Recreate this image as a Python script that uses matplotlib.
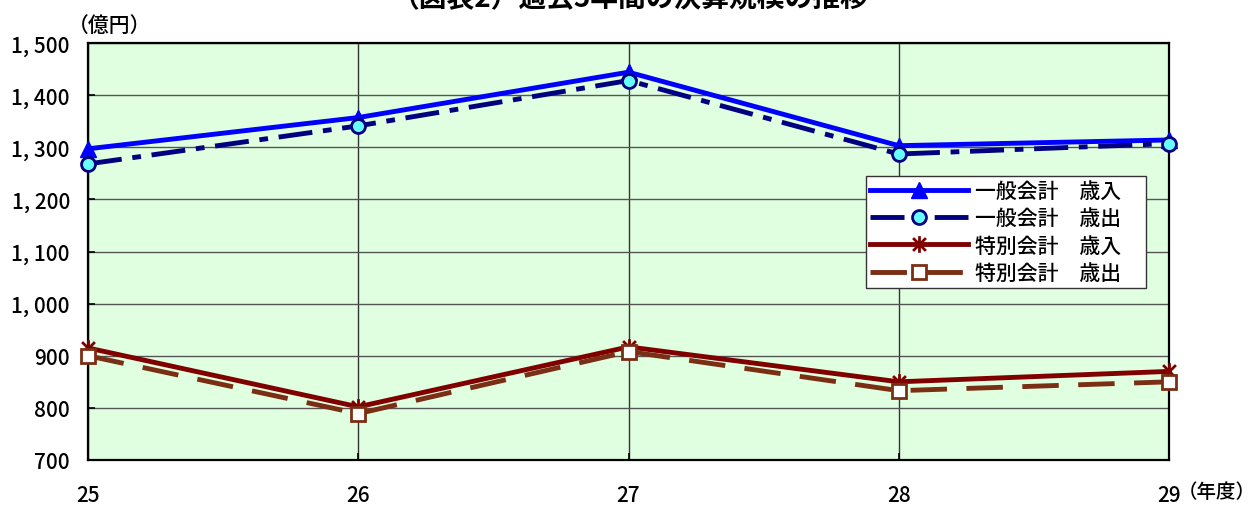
import matplotlib.pyplot as plt
from matplotlib.path import Path

plt.rcParams['font.family'] = ['Noto Sans CJK JP', 'DejaVu Sans']
plt.rcParams['font.weight'] = 'medium'

# 年度と決算額（億円）
years = [25, 26, 27, 28, 29]
general_revenue = [1297, 1357, 1444, 1303, 1314]
general_expenditure = [1268, 1341, 1428, 1287, 1307]
special_revenue = [915, 802, 917, 850, 870]
special_expenditure = [900, 789, 908, 833, 850]

series_labels = ["一般会計　歳入", "一般会計　歳出", "特別会計　歳入", "特別会計　歳出"]
y_ticks = [700, 800, 900, 1000, 1100, 1200, 1300, 1400, 1500]

# Excel風のスター型マーカー（×＋縦線）
star = Path([(-1, -1), (1, 1), (-1, 1), (1, -1), (0, -1.3), (0, 1.3)],
            [Path.MOVETO, Path.LINETO, Path.MOVETO, Path.LINETO, Path.MOVETO, Path.LINETO])

fig = plt.figure(figsize=(12.6, 5.06), dpi=100)
ax = fig.add_axes([88 / 1260, 1 - 461 / 506, (1169 - 88) / 1260, (461 - 44) / 506])
ax.set_facecolor('#E0FFE0')

ax.plot(years, general_revenue, color='#0000FF', lw=3.5, marker='^', markersize=11,
        markerfacecolor='#0000FF', markeredgecolor='#0000FF', label=series_labels[0],
        clip_on=False, zorder=3)
ax.plot(years, general_expenditure, color='#000080', lw=3.5, dashes=(7, 2.2, 1.8, 2.2),
        marker='o', markersize=10, markerfacecolor='#66FFFF', markeredgecolor='#000080',
        markeredgewidth=2, label=series_labels[1], clip_on=False, zorder=4)
ax.plot(years, special_revenue, color='#800000', lw=3.5, marker=star, markersize=12,
        markeredgecolor='#800000', markeredgewidth=2, label=series_labels[2],
        clip_on=False, zorder=3)
ax.plot(years, special_expenditure, color='#7A2E14', lw=3.5, dashes=(7.5, 4),
        marker='s', markersize=10, markerfacecolor='white', markeredgecolor='#7A2E14',
        markeredgewidth=2, label=series_labels[3], clip_on=False, zorder=4)

ax.set_xlim(25, 29)
ax.set_ylim(700, 1500)
ax.set_xticks(years)
ax.set_xticklabels([str(y) for y in years])
ax.set_yticks(y_ticks)
ax.set_yticklabels([f"{v:,}".replace(",", ", ") for v in y_ticks])
ax.tick_params(axis='both', direction='in', length=5, width=1.2, labelsize=15, colors='black')
ax.tick_params(axis='x', pad=17)
ax.tick_params(axis='y', pad=13)

ax.yaxis.grid(True, color='#555555', lw=1)
ax.xaxis.grid(True, color='#333333', lw=1)
ax.set_axisbelow(True)
for spine in ax.spines.values():
    spine.set_linewidth(1.6)
    spine.set_color('black')

# 凡例枠は右端まで広げる
x0 = (866 - 88) / 1081
y1 = (461 - 177) / 417
leg = ax.legend(loc='upper left', bbox_to_anchor=(x0, y1 - 0.3, (1146 - 866) / 1081, 0.3),
                mode='expand', borderaxespad=0, fontsize=15, handlelength=4.7,
                handletextpad=0.35, labelspacing=0.25, borderpad=0.2, fancybox=False,
                framealpha=1, edgecolor='#333333')
leg.get_frame().set_linewidth(1)

fig.text(0.5, 1 - 6 / 506, "（図表2）過去5年間の決算規模の推移", ha='center', va='baseline',
         fontsize=20, fontweight='bold')
fig.text(68 / 1260, 1 - 26 / 506, "（億円）", ha='left', va='center', fontsize=15)
fig.text(1178 / 1260, 1 - 493 / 506, "（年度）", ha='left', va='center', fontsize=14)

fig.savefig('out.png', dpi=100)
